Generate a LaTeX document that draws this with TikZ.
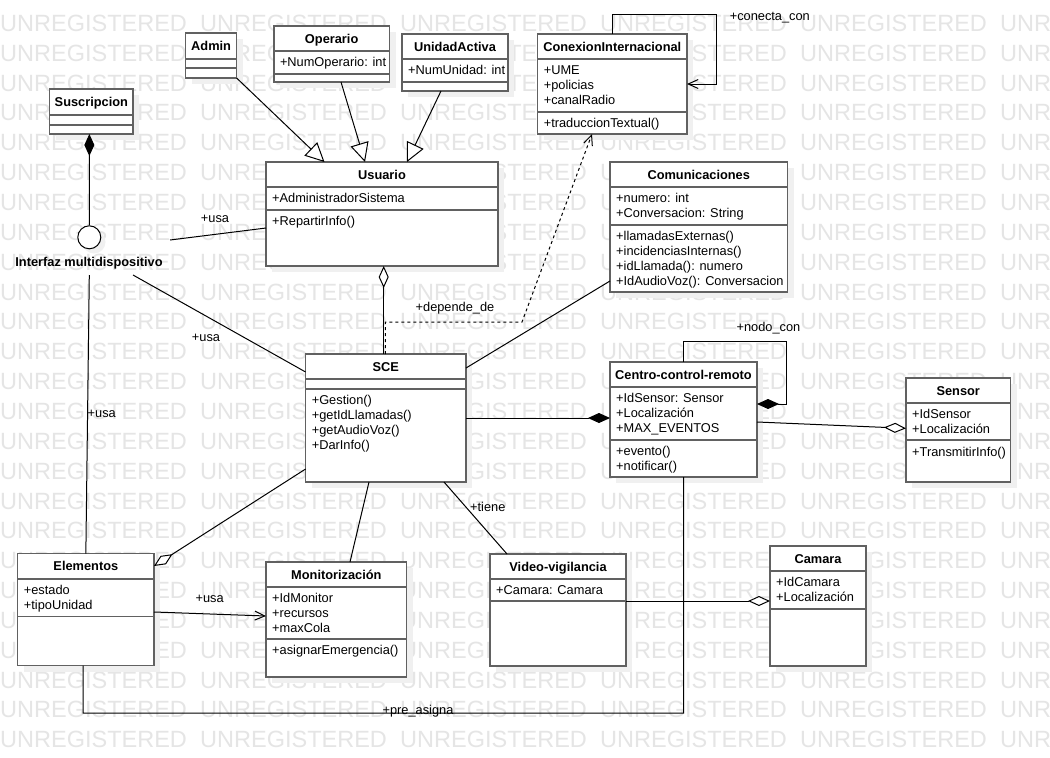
\documentclass[tikz,border=0pt]{standalone}
\usepackage{fontspec}
\setmainfont{Liberation Sans}
\usetikzlibrary{arrows.meta,calc}

\newcommand\umlcls[8]{%
  \fill[shadowfill] (#2+6,#3+6) rectangle (#4+6,#5+6);
  \pgfmathsetmacro\clsW{#4-#2}\pgfmathsetmacro\clsH{#5-#3}%
  \node[clsbox, minimum width=\clsW pt, minimum height=\clsH pt, anchor=north west] (#1) at (#2,#3) {};
  \draw[clsline] (#2,#6) -- (#4,#6);
  \draw[clsline] (#2,#7) -- (#4,#7);
  \node[ttl] (#1-t) at ({(#2+#4)/2},{(#3+#6)/2}) {#8};
}

\begin{document}
\begin{tikzpicture}[x=1pt,y=-1pt,
  clsbox/.style={draw=black!62, line width=1.4pt, fill=white, inner sep=0pt, outer sep=0pt},
  clsline/.style={draw=black!62, line width=1.4pt},
  shadowfill/.style={fill=black!6},
  ttl/.style={inner sep=0pt, font=\fontsize{12.8}{15}\selectfont\bfseries, text height=9.2pt, text depth=0pt},
  txt/.style={anchor=north west, inner sep=0pt, align=left, font=\fontsize{12.8}{15}\selectfont},
  lbl/.style={inner sep=0pt, font=\fontsize{12.8}{15}\selectfont, text height=9.5pt, text depth=1.5pt},
  wm/.style={anchor=west, inner sep=0pt, font=\fontsize{23.5}{28}\selectfont, text=black!10, text height=16.8pt, text depth=0pt},
  conn/.style={draw=black, line width=1pt},
  gen/.style={conn, -{Triangle[open, fill=white, length=19pt, width=18.5pt]}},
  agg/.style={conn, -{Diamond[open, fill=white, length=22pt, width=10pt]}},
  comp/.style={conn, -{Diamond[length=22pt, width=10pt]}},
  assoc/.style={conn, -{Straight Barb[length=10pt, width=9pt]}},
]
\useasboundingbox (0,0) rectangle (1050,758);
\fill[white] (0,0) rectangle (1050,758);

% watermark
\begin{scope}
  \clip (0,0) rectangle (1050,758);
  \foreach \r in {0,...,24} {
    \foreach \c in {0,...,5} {
      \node[wm] (wm-\r-\c) at (200*\c, 23+29.85*\r) {UNREGISTERED};
    }
  }
\end{scope}

% classes
\umlcls{admin}{185.6}{33}{236.6}{78}{59}{68}{Admin}
\umlcls{operario}{273.8}{26}{389.5}{82}{51}{74}{Operario}
\node[txt] (operario-a) at (279.8,55.4) {\strut+NumOperario: int};
\umlcls{unidad}{402}{34}{508}{91}{59}{82}{UnidadActiva}
\node[txt] (unidad-a) at (408,63.4) {\strut+NumUnidad: int};
\umlcls{susc}{49.7}{89}{133}{134}{115}{125}{Suscripcion}
\umlcls{usuario}{266}{162}{498}{266}{187}{210}{Usuario}
\node[txt] (usuario-a) at (272,191.4) {\strut+AdministradorSistema};
\node[txt] (usuario-m) at (272,214.4) {\strut+RepartirInfo()};
\umlcls{conexion}{537.6}{34}{687}{134}{59}{112}{ConexionInternacional}
\node[txt] (conexion-a) at (543.6,63.4) {\strut+UME\\\strut+policias\\\strut+canalRadio};
\node[txt] (conexion-m) at (543.6,116.4) {\strut+traduccionTextual()};
\umlcls{comunic}{610}{162}{787.5}{292}{187}{225}{Comunicaciones}
\node[txt] (comunic-a) at (616,191.4) {\strut+numero: int\\\strut+Conversacion: String};
\node[txt] (comunic-m) at (616,229.4) {\strut+llamadasExternas()\\\strut+incidenciasInternas()\\\strut+idLlamada(): numero\\\strut+IdAudioVoz(): Conversacion};
\umlcls{sce}{305.6}{354}{466}{482}{379}{389}{SCE}
\node[txt] (sce-m) at (311.6,393.4) {\strut+Gestion()\\\strut+getIdLlamadas()\\\strut+getAudioVoz()\\\strut+DarInfo()};
\umlcls{centro}{610}{362}{757}{477}{387}{440}{Centro-control-remoto}
\node[txt] (centro-a) at (616,391.4) {\strut+IdSensor: Sensor\\\strut+Localización\\\strut+MAX\_EVENTOS};
\node[txt] (centro-m) at (616,445.2) {\strut+evento()\\\strut+notificar()};
\umlcls{sensor}{906}{378}{1010.5}{482}{403}{440}{Sensor}
\node[txt] (sensor-a) at (912,407.4) {\strut+IdSensor\\\strut+Localización};
\node[txt] (sensor-m) at (912,445.5) {\strut+TransmitirInfo()};
\umlcls{elementos}{17.7}{553.7}{154}{665.7}{579}{616.7}{Elementos}
\node[txt] (elementos-a) at (23.7,583.4) {\strut+estado\\\strut+tipoUnidad};
\umlcls{monitor}{266}{562}{406.7}{677}{587}{639}{Monitorización}
\node[txt] (monitor-a) at (272,591.4) {\strut+IdMonitor\\\strut+recursos\\\strut+maxCola};
\node[txt] (monitor-m) at (272,643.4) {\strut+asignarEmergencia()};
\umlcls{video}{490}{554}{626}{666}{579}{601}{Video-vigilancia}
\node[txt] (video-a) at (496,583.4) {\strut+Camara: Camara};
\umlcls{camara}{770}{546}{866}{666}{571}{609}{Camara}
\node[txt] (camara-a) at (776,575.4) {\strut+IdCamara\\\strut+Localización};

% interface
\fill[shadowfill] (94,242) circle (11.5);
\node[circle, draw=black, line width=1pt, fill=white, minimum size=23pt, inner sep=0pt] (iface) at (89.3,237.3) {};
\node[ttl] (iface-l) at (89,262) {Interfaz multidispositivo};

% connectors
\draw[comp] (iface.north) -- ([xshift=-2pt]susc.south);
\draw[gen] (admin.south east) -- ([xshift=58.5pt]usuario.north west);
\draw[gen] ([xshift=67.2pt]operario.south west) -- ([xshift=99pt]usuario.north west);
\draw[gen] ([xshift=39pt]unidad.south west) -- ([xshift=141pt]usuario.north west);
\draw[conn] ($(iface)+(80.7,2.7)$) -- ([yshift=-14pt]usuario.west);
\draw[conn] ($(iface)+(43.7,37.7)$) -- ([yshift=46pt]sce.west);
\draw[conn] ($(iface)+(0,37.7)$) -- (elementos.north);
\draw[agg] ([xshift=-2.1pt]sce.north) -- ([xshift=1.7pt]usuario.south);
\draw[conn, dash pattern=on 3pt off 3pt, -{Straight Barb[length=10pt, width=9pt]}]
  ([xshift=-0.4pt]sce.north) -- ++(0,-32) -- ++(136.6,0) -- ([xshift=-20.3pt]conexion.south);
\draw[assoc] (conexion.north) -- ++(0,-20) -- ++(103.7,0) -- ++(0,70) -- (conexion.east);
\draw[conn] ([yshift=50pt]sce.east) -- ([yshift=-54pt]comunic.west);
\draw[comp] (sce.east) -- ([yshift=1.5pt]centro.west);
\draw[comp] (centro.north) -- ++(0,-21) -- ++(102.5,0) -- ++(0,63) -- ([yshift=15.5pt]centro.east);
\draw[agg] ([yshift=-2.5pt]centro.east) -- ([yshift=1.7pt]sensor.west);
\draw[agg] ([yshift=-51pt]sce.west) -- ([yshift=43.7pt]elementos.east);
\draw[conn] ([xshift=-16.8pt]sce.south) -- ([xshift=13.65pt]monitor.north);
\draw[conn] ([xshift=58.2pt]sce.south) -- ([xshift=-51pt]video.north);
\draw[assoc] ([yshift=-2.3pt]elementos.east) -- ([yshift=3.5pt]monitor.west);
\draw[conn] ([xshift=-2.85pt]elementos.south) -- ++(0,47.3) -- ++(600.5,0) -- (centro.south);
\draw[agg] ([yshift=9pt]video.east) -- ([yshift=5pt]camara.west);

% labels
\node[lbl] (l-usa1) at (215,218) {+usa};
\node[lbl] (l-usa2) at (206,337) {+usa};
\node[lbl, anchor=west] (l-usa3) at (87.5,413) {+usa};
\node[lbl] (l-usa4) at (209.6,598) {+usa};
\node[lbl, anchor=west] (l-tiene) at (470,507) {+tiene};
\node[lbl] (l-pre) at (418,710) {+pre\_asigna};
\node[lbl, anchor=west] (l-conecta) at (729.6,16) {+conecta\_con};
\node[lbl] (l-nodo) at (768.5,327) {+nodo\_con};
\node[lbl] (l-dep) at (455,307) {+depende\_de};
\end{tikzpicture}
\end{document}
